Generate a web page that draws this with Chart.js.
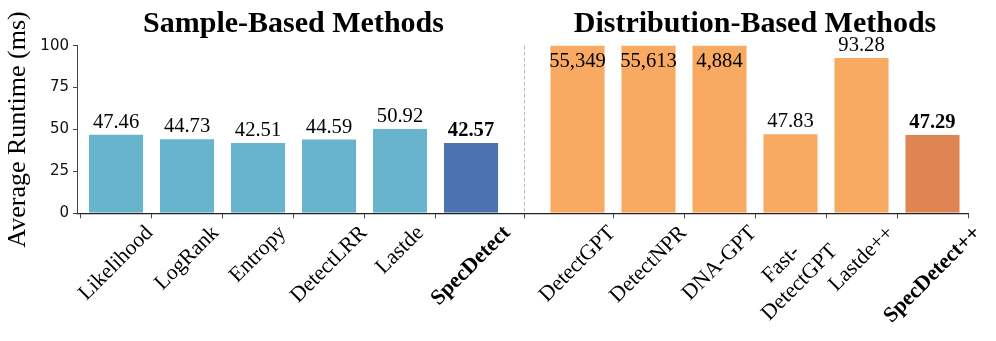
<!DOCTYPE html>
<html><head><meta charset="utf-8">
<script src="https://cdn.jsdelivr.net/npm/chart.js@4/dist/chart.umd.min.js"></script>
<style>html,body{margin:0;padding:0;background:#fff}#wrap{width:996px;height:341px}</style>
</head><body><div id="wrap"><canvas id="c" width="996" height="341"></canvas></div>
<script>
// ---- data ----
const groupTitles = ['Sample-Based Methods', 'Distribution-Based Methods'];
const sampleMethods = ['Likelihood', 'LogRank', 'Entropy', 'DetectLRR', 'Lastde', 'SpecDetect'];
const sampleRuntime = [47.46, 44.73, 42.51, 44.59, 50.92, 42.57];
const distMethods = ['DetectGPT', 'DetectNPR', 'DNA-GPT', 'Fast-\nDetectGPT', 'Lastde++', 'SpecDetect++'];
const distRuntime = [55349, 55613, 4884, 47.83, 93.28, 47.29];
const oursMethods = ['SpecDetect', 'SpecDetect++'];
const yTicks = [0, 25, 50, 75, 100];
const yLabel = 'Average Runtime (ms)';

// ---- layout helpers ----
const GAP = 0.5;
const methods = sampleMethods.concat(distMethods);
const runtimes = sampleRuntime.concat(distRuntime);
const groupOf = methods.map((m, i) => i < sampleMethods.length ? 0 : 1);
const pos = methods.map((m, i) => i + (groupOf[i] ? GAP : 0));
const isOurs = methods.map(m => oursMethods.includes(m));
const palette = [['#67b4cc', '#4c72b0'], ['#f9aa62', '#df8453']];
const colors = methods.map((m, i) => palette[groupOf[i]][isOurs[i] ? 1 : 0]);
const SERIF = "'Liberation Serif', 'Times New Roman', serif";
const SANS = "'DejaVu Sans', sans-serif";
const FS = 20.6;   // value labels
const FSX = 21.7;  // x tick labels

function fmt(v) { return v >= 1000 ? v.toLocaleString('en-US') : v.toFixed(2); }

function drawRotLabel(ctx, text, cx, top, bold) {
  ctx.font = (bold ? 'bold ' : '') + FSX + 'px ' + SERIF;
  const lines = text.split('\n');
  const lh = FSX * 1.2;
  const L = Math.max.apply(null, lines.map(s => ctx.measureText(s).width));
  const H = (lines.length - 1) * lh + FSX * 1.1;
  const half = (L + H) * Math.SQRT1_2 / 2;
  ctx.save();
  ctx.translate(cx, top + half);
  ctx.rotate(-Math.PI / 4);
  ctx.textAlign = 'center';
  ctx.textBaseline = 'middle';
  ctx.fillStyle = '#000';
  lines.forEach((s, i) => ctx.fillText(s, 0, (i - (lines.length - 1) / 2) * lh));
  ctx.restore();
}

const annot = {
  id: 'annot',
  beforeDatasetsDraw(chart) {
    const {ctx, chartArea, scales: {x}} = chart;
    const last0 = pos[sampleMethods.length - 1], first1 = pos[sampleMethods.length];
    const xd = Math.round(x.getPixelForValue((last0 + first1) / 2)) + 0.5;
    ctx.save();
    ctx.strokeStyle = '#bdbdbd'; ctx.lineWidth = 1; ctx.setLineDash([4, 2]);
    ctx.beginPath(); ctx.moveTo(xd, chartArea.top); ctx.lineTo(xd, chartArea.bottom); ctx.stroke();
    ctx.restore();
  },
  afterDraw(chart) {
    const {ctx, chartArea, scales: {x, y}} = chart;
    ctx.save();
    // group titles
    ctx.font = 'bold 30px ' + SERIF;
    ctx.fillStyle = '#000'; ctx.textAlign = 'center'; ctx.textBaseline = 'alphabetic';
    [0, 1].forEach(g => {
      const ps = pos.filter((p, i) => groupOf[i] === g);
      const c = (Math.min.apply(null, ps) + Math.max.apply(null, ps)) / 2;
      ctx.fillText(groupTitles[g], x.getPixelForValue(c), chartArea.top - 14);
    });
    // value labels
    runtimes.forEach((v, i) => {
      ctx.font = (isOurs[i] ? 'bold ' : '') + FS + 'px ' + SERIF;
      const px = x.getPixelForValue(pos[i]);
      let by;
      if (v > y.max) by = chartArea.top + 21;
      else by = y.getPixelForValue(v) - 6;
      ctx.fillText(fmt(v), px, by);
    });
    ctx.restore();
    // x tick labels
    methods.forEach((m, i) => drawRotLabel(ctx, m, x.getPixelForValue(pos[i]), chartArea.bottom + 8, isOurs[i]));
  }
};

new Chart(document.getElementById('c'), {
  type: 'bar',
  data: {
    datasets: [{
      data: runtimes.map((v, i) => ({x: pos[i], y: v})),
      backgroundColor: colors,
      borderColor: 'rgba(255,255,255,0.45)',
      borderWidth: 1,
      categoryPercentage: 1,
      barPercentage: 0.79,
      clip: 0
    }]
  },
  options: {
    responsive: false,
    devicePixelRatio: 1,
    animation: false,
    layout: {padding: {top: 45.7, right: 28, bottom: 0, left: 0}},
    plugins: {legend: {display: false}, tooltip: {enabled: false}},
    scales: {
      x: {
        type: 'linear',
        min: -0.55, max: 12,
        offset: false,
        afterBuildTicks: s => { s.ticks = pos.map(p => ({value: p})); },
        afterFit: s => { s.height = 341 - 213.3; },
        ticks: {display: false},
        grid: {drawOnChartArea: false, drawTicks: true, tickLength: 5, color: '#444', lineWidth: 1},
        border: {display: true, color: '#222', width: 1.2}
      },
      y: {
        min: 0, max: 100,
        afterBuildTicks: s => { s.ticks = yTicks.map(v => ({value: v})); },
        afterFit: s => { s.width = 77; },
        ticks: {font: {family: SANS, size: 15}, color: '#111', padding: 4},
        grid: {drawOnChartArea: false, drawTicks: true, tickLength: 4, color: '#444', lineWidth: 1},
        border: {display: true, color: '#444', width: 1},
        title: {display: true, text: yLabel, font: {family: SERIF, size: 26}, color: '#000', padding: {top: 2.9, bottom: 0}}
      }
    }
  },
  plugins: [annot]
});
</script></body></html>
